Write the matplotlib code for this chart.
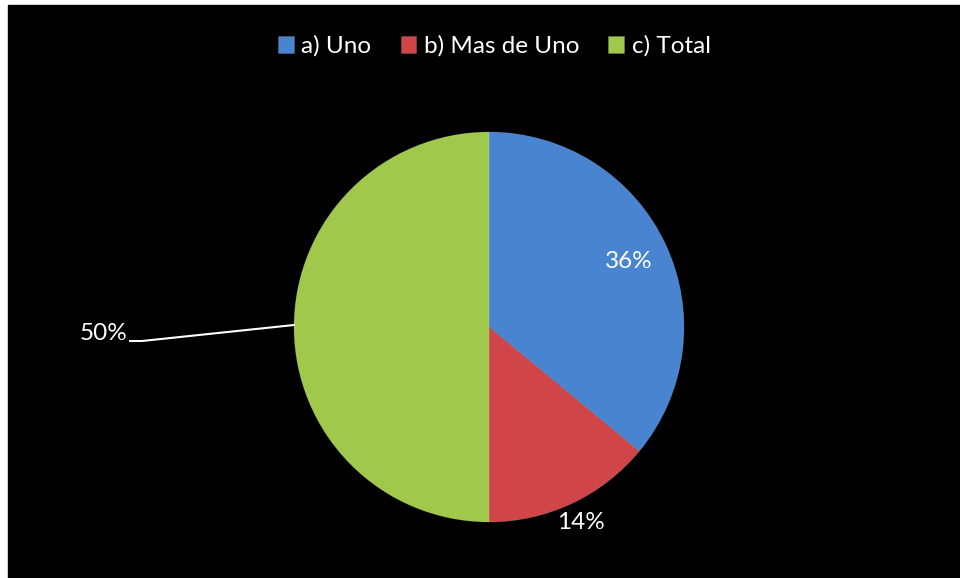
import numpy as np
import matplotlib
matplotlib.use('Agg')
import matplotlib.pyplot as plt
from matplotlib.patches import Rectangle

# Data
categories = ['a) Uno', 'b) Mas de Uno', 'c) Total']
values = [36, 14, 50]
pct_labels = ['36%', '14%', '50%']
colors = ['#4884D0', '#CF4548', '#A0C84A']

plt.rcParams['font.family'] = ['Lato', 'DejaVu Sans']

fig = plt.figure(figsize=(9.6, 5.78), dpi=100)
fig.patch.set_facecolor('white')
ax = fig.add_axes([0, 0, 1, 1])

# black chart area (white strip on left / top)
ax.add_patch(Rectangle((8, 0), 952, 573, color='black', zorder=0))

cx, cy, r = 489, 251, 195
wedges, _ = ax.pie(values, colors=colors, startangle=90, counterclock=False,
                   center=(cx, cy), radius=r,
                   wedgeprops=dict(edgecolor=(1, 1, 1, 0.15), linewidth=0.6))
ax.set_xlim(0, 960)
ax.set_ylim(0, 578)
ax.set_aspect('equal')
ax.axis('off')

fs = 17.5
# percentage labels
dist = [0.79, 1.11, None]
for w, lab, d in zip(wedges, pct_labels, dist):
    ang = np.deg2rad((w.theta1 + w.theta2) / 2)
    if d is not None:
        ax.text(cx + d * r * np.cos(ang), cy + d * r * np.sin(ang), lab,
                color='white', fontsize=fs, ha='center', va='center')
    else:
        ex, ey = cx + r * np.cos(ang), cy + r * np.sin(ang) + 2
        ax.plot([ex, 142, 130], [ey, 237, 237], color='white', lw=1.5)
        ax.text(127, 245, lab, color='white', fontsize=fs, ha='right', va='center')

leg = fig.legend(wedges, categories, loc='center', ncol=3, frameon=False,
                 bbox_to_anchor=(0.515, 0.92), fontsize=fs, labelcolor='white',
                 handlelength=0.65, handleheight=0.65, handletextpad=0.3,
                 columnspacing=1.2)

fig.savefig('out.png', dpi=100, facecolor=fig.get_facecolor())
